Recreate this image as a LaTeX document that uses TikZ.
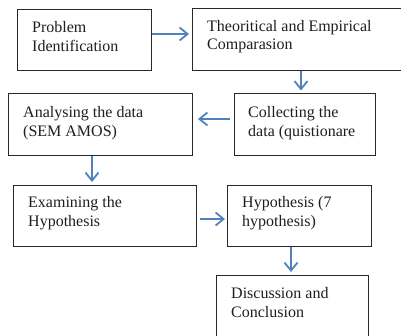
\documentclass[tikz,border=0pt]{standalone}
\usepackage{fontspec}
\setmainfont{Liberation Serif}
\usetikzlibrary{arrows.meta}
\definecolor{arrowblue}{RGB}{79,129,189}
\definecolor{boxline}{RGB}{40,40,40}
\definecolor{txt}{RGB}{30,30,30}
\tikzset{
  stepbox/.style={draw=boxline, line width=0.9pt, inner sep=0pt, anchor=north west},
  lbl/.style={anchor=north west, inner sep=0pt, align=left, text=txt,
    font=\fontsize{16}{18.4}\selectfont},
  flow/.style={draw=arrowblue, line width=1.8pt,
    -{Straight Barb[length=8pt,width=13pt,line width=1.8pt]}}
}
\begin{document}
\begin{tikzpicture}[x=1pt,y=-1pt]
\useasboundingbox (0,0) rectangle (401,335);
\clip (0,0) rectangle (401,335);
% boxes
\node[stepbox, minimum width=134pt, minimum height=61pt] (b1) at (17,9) {};
\node[stepbox, minimum width=208.5pt, minimum height=62pt] (b2) at (192,8) {};
\node[stepbox, minimum width=184pt, minimum height=62pt] (b4) at (8,93) {};
\node[stepbox, minimum width=141pt, minimum height=62pt] (b3) at (234,93) {};
\node[stepbox, minimum width=183pt, minimum height=61pt] (b5) at (13,185) {};
\node[stepbox, minimum width=144pt, minimum height=61pt] (b6) at (227,185) {};
\node[stepbox, minimum width=152pt, minimum height=70pt] (b7) at (216,275) {};
% labels
\node[lbl] (t1) at (32,21.5) {Problem\\Identification};
\node[lbl] (t2) at (207,20) {Theoritical and Empirical\\Comparasion};
\node[lbl] (t4) at (23,106.5) {Analysing the data\\(SEM AMOS)};
\node[lbl] (t3) at (248,106.5) {Collecting the\\data (quistionare};
\node[lbl] (t5) at (28,196.5) {Examining the\\Hypothesis};
\node[lbl] (t6) at (242,196.5) {Hypothesis (7\\hypothesis)};
\node[lbl] (t7) at (231,287.5) {Discussion and\\Conclusion};
% connector anchors
\coordinate (a1) at (189,34);
\coordinate (a2) at (301,90.5);
\coordinate (a3) at (198,119);
\coordinate (a4) at (92,182);
\coordinate (a5) at (225,219);
\coordinate (a6) at (291,272);
% connectors
\draw[flow] (b1.east |- a1) -- (a1);
\draw[flow] (b2.south -| a2) -- (a2);
\draw[flow] ([xshift=-4pt]b3.west |- a3) -- (a3);
\draw[flow] (b4.south -| a4) -- (a4);
\draw[flow] ([xshift=3pt]b5.east |- a5) -- (a5);
\draw[flow] (b6.south -| a6) -- (a6);
\end{tikzpicture}
\end{document}
